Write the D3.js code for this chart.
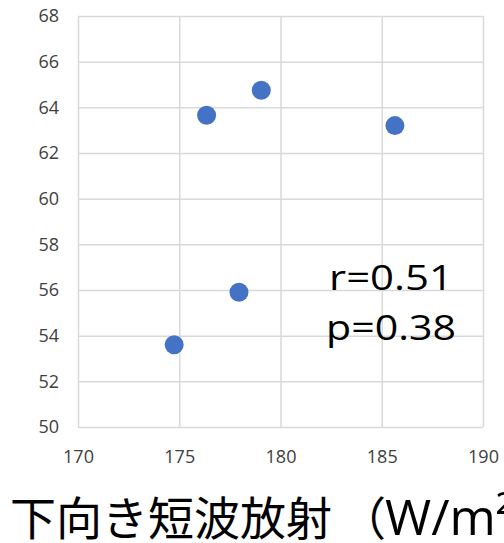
<!DOCTYPE html>
<html>
<head>
<meta charset="utf-8">
<script src="https://cdn.jsdelivr.net/npm/d3@7"></script>
<style>
  body { margin: 0; background: #ffffff; }
  svg { display: block; }
</style>
</head>
<body>
<script>
// datos
var radiacion = [176.35, 179.05, 185.65, 177.95, 174.75];
var valores = [63.65, 64.75, 63.2, 55.9, 53.6];
var ticksX = [170, 175, 180, 185, 190];
var ticksY = [50, 52, 54, 56, 58, 60, 62, 64, 66, 68];
var etiquetaEjeX = ["下向き短波放射", "（", "W/m²）"];
var estadisticos = ["r=0.51", "p=0.38"];

var width = 504;
var height = 543;

// zona del grafico
var margen = {
    arriba: 16,
    abajo: 116,
    izquierda: 78,
    derecha: 21
}

var escalaX = d3.scaleLinear()
    .domain([170, 190])
    .range([margen.izquierda, width - margen.derecha])

var escalaY = d3.scaleLinear()
    .domain([50, 68])
    .range([height - margen.abajo, margen.arriba])

var dibujoSVG = d3.select("body")
    .append("svg")
    .attr("width", width)
    .attr("height", height)

// eje Y con rejilla
var ejeY = d3.axisLeft(escalaY)
    .tickValues(ticksY)
    .tickSize(-(width - margen.izquierda - margen.derecha))
    .tickPadding(19)

dibujoSVG.append("g")
    .attr("transform", "translate(" + margen.izquierda + ",0)")
    .call(ejeY)

// eje X con rejilla
var ejeX = d3.axisBottom(escalaX)
    .tickValues(ticksX)
    .tickSize(-(height - margen.abajo - margen.arriba))
    .tickPadding(23)

dibujoSVG.append("g")
    .attr("transform", "translate(0," + (height - margen.abajo) + ")")
    .call(ejeX)

// estilo de los ejes
dibujoSVG.selectAll(".domain").remove()
dibujoSVG.selectAll(".tick line")
    .attr("stroke", "#d9d9d9")
    .attr("stroke-width", 1.5)
dibujoSVG.selectAll(".tick text")
    .attr("fill", "#404040")
    .style("font-family", "'Open Sans', sans-serif")
    .style("font-size", "18px")

// puntos
dibujoSVG.selectAll("circle")
    .data(radiacion)
    .join("circle")
    .attr("cx", function(d){return escalaX(d)})
    .attr("cy", function(d, i){return escalaY(valores[i])})
    .attr("r", 9.5)
    .attr("fill", "#4472c4")

// r y p
dibujoSVG.selectAll(".estadistico")
    .data(estadisticos)
    .join("text")
    .attr("class", "estadistico")
    .attr("x", function(d, i){return i == 0 ? 329 : 326})
    .attr("y", function(d, i){return 290 + i * 50})
    .attr("textLength", function(d, i){return i == 0 ? 124 : 130})
    .attr("lengthAdjust", "spacingAndGlyphs")
    .attr("fill", "#000000")
    .style("font-family", "'Open Sans', sans-serif")
    .style("font-size", "35px")
    .text(function(d){return d})

// titulo del eje X (se corta a la derecha, como en el original)
var posTitulo = [10, 340, 385];
dibujoSVG.append("text")
    .attr("y", 535)
    .attr("fill", "#000000")
    .style("font-family", "'Open Sans', 'Noto Sans CJK JP', sans-serif")
    .style("font-size", "46px")
    .selectAll("tspan")
    .data(etiquetaEjeX)
    .join("tspan")
    .attr("x", function(d, i){return posTitulo[i]})
    .style("font-size", function(d, i){return i == 2 ? "50px" : null})
    .text(function(d){return d})
</script>
</body>
</html>
